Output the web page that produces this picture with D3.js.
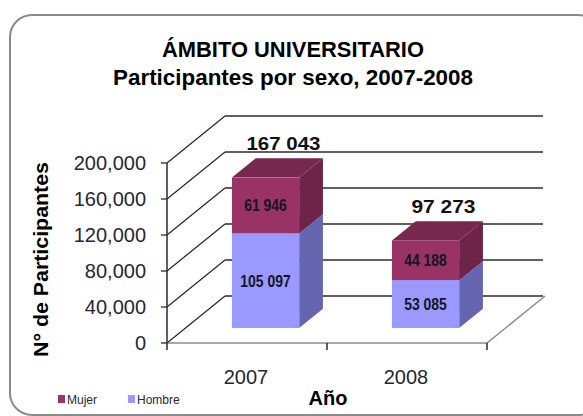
<!DOCTYPE html>
<html><head><meta charset="utf-8">
<script src="https://cdn.jsdelivr.net/npm/d3@7"></script>
<style>html,body{margin:0;padding:0;background:#fff}svg{display:block}</style>
</head><body>
<script>
const categories = ["2007", "2008"];
const mujer = [61946, 44188];
const hombre = [105097, 53085];
const yTicks = [0, 40000, 80000, 120000, 160000, 200000];
const seriesNames = ["Mujer", "Hombre"];
const titleLines = ["ÁMBITO UNIVERSITARIO", "Participantes por sexo, 2007-2008"];

const W = 583, H = 416;
const svg = d3.select("body").append("svg").attr("width", W).attr("height", H);

// frame
svg.append("rect").attr("x", 10).attr("y", 15).attr("width", 590).attr("height", 400)
  .attr("rx", 22).attr("fill", "#fff").attr("stroke", "#8a8a8a").attr("stroke-width", 2);

const cond = "'Liberation Sans Narrow','Arial Narrow','Liberation Sans',Arial,sans-serif";
const sans = "'Liberation Sans',Arial,sans-serif";

function condense(sel, factor) {
  const n = sel.node();
  const len = n.getComputedTextLength();
  sel.attr("textLength", len * factor).attr("lengthAdjust", "spacingAndGlyphs");
  return sel;
}

// title
svg.append("text").attr("x", 293).attr("y", 57).attr("text-anchor", "middle")
  .attr("font-family", cond).attr("font-weight", "bold").attr("font-size", 22)
  .attr("textLength", 262).attr("lengthAdjust", "spacingAndGlyphs").text(titleLines[0]);
svg.append("text").attr("x", 293).attr("y", 85).attr("text-anchor", "middle")
  .attr("font-family", cond).attr("font-weight", "bold").attr("font-size", 22)
  .attr("textLength", 360).attr("lengthAdjust", "spacingAndGlyphs").text(titleLines[1]);

// scales (front plane)
const y = d3.scaleLinear().domain([0, 200000]).range([343, 163]);
const x = d3.scaleBand().domain(categories).range([167, 487]).paddingInner(0).paddingOuter(0);
const DX = 58, DY = -47;          // full depth
const t0 = 0.32, t1 = 0.73;       // bar depth position
const barFrac = 0.42;
const backRight = 543;

const g = svg.append("g");
const lineCol = "#2b2b2b";

// back wall gridlines and left wall diagonals
yTicks.forEach(v => {
  g.append("line").attr("x1", 167 + DX).attr("y1", y(v) + DY).attr("x2", backRight).attr("y2", y(v) + DY)
    .attr("stroke", lineCol).attr("stroke-width", 1.6);
  g.append("line").attr("x1", 167).attr("y1", y(v)).attr("x2", 167 + DX).attr("y2", y(v) + DY)
    .attr("stroke", lineCol).attr("stroke-width", 1.3);
  g.append("line").attr("x1", 161).attr("y1", y(v)).attr("x2", 167).attr("y2", y(v))
    .attr("stroke", lineCol).attr("stroke-width", 1.3);
});
// floor
g.append("path").attr("d", `M167,${y(0)}L${x.range()[1]},${y(0)}L${x.range()[1] + DX},${y(0) + DY}`)
  .attr("fill", "none").attr("stroke", "#8c8c8c").attr("stroke-width", 1.5);
// front axis
g.append("line").attr("x1", 167).attr("y1", y(0)).attr("x2", 167).attr("y2", y(200000))
  .attr("stroke", lineCol).attr("stroke-width", 1.5);
// x ticks
[167, ...categories.map(c => x(c) + x.bandwidth())].forEach(px => {
  g.append("line").attr("x1", px).attr("y1", y(0)).attr("x2", px).attr("y2", y(0) + 7)
    .attr("stroke", lineCol).attr("stroke-width", 1.5);
});

// y tick labels
yTicks.forEach(v => {
  svg.append("text").attr("x", 146).attr("y", y(v)).attr("dy", "0.36em").attr("text-anchor", "end")
    .attr("font-family", sans).attr("font-size", 20).attr("fill", "#262636").text(d3.format(",")(v));
});
// x labels
categories.forEach(c => {
  svg.append("text").attr("x", x(c) + x.bandwidth() / 2 - 1).attr("y", 384).attr("text-anchor", "middle")
    .attr("font-family", sans).attr("font-size", 20).attr("fill", "#262636").text(c);
});
// axis titles
svg.append("text").attr("transform", `translate(48,${(162 + 357) / 2}) rotate(-90)`).attr("text-anchor", "middle")
  .attr("font-family", sans).attr("font-weight", "bold").attr("font-size", 20)
  .attr("textLength", 195).attr("lengthAdjust", "spacingAndGlyphs").text("N° de Participantes");
svg.append("text").attr("x", 328).attr("y", 405).attr("text-anchor", "middle")
  .attr("font-family", sans).attr("font-weight", "bold").attr("font-size", 20).text("Año");

// bars
const colors = {
  Mujer: { front: "#993366", top: "#78284f", side: "#6d2448" },
  Hombre: { front: "#9999ff", top: "#7b7bd6", side: "#6666b0" }
};
const bdx0 = DX * t0, bdy0 = DY * t0;
const bdx = DX * (t1 - t0), bdy = DY * (t1 - t0);
const loc = d3.formatLocale({ decimal: ".", thousands: " ", grouping: [3], currency: ["", ""] });
const fmt = loc.format(",");

categories.forEach((c, i) => {
  const bw = x.bandwidth() * barFrac;
  const x0 = x(c) + bdx0 + (x.bandwidth() - bw) / 2;
  const x1 = x0 + bw;
  const segs = [
    { name: "Hombre", lo: 0, hi: hombre[i] },
    { name: "Mujer", lo: hombre[i], hi: hombre[i] + mujer[i] }
  ];
  segs.forEach(s => {
    const yb = y(s.lo) + bdy0, yt = y(s.hi) + bdy0;
    const col = colors[s.name];
    g.append("path").attr("d", `M${x1},${yb}L${x1 + bdx},${yb + bdy}L${x1 + bdx},${yt + bdy}L${x1},${yt}Z`)
      .attr("fill", col.side);
    g.append("path").attr("d", `M${x0},${yt}L${x0 + bdx},${yt + bdy}L${x1 + bdx},${yt + bdy}L${x1},${yt}Z`)
      .attr("fill", col.top);
    g.append("rect").attr("x", x0).attr("y", yt).attr("width", bw).attr("height", yb - yt).attr("fill", col.front);
    const t = svg.append("text").attr("x", (x0 + x1) / 2).attr("y", (yb + yt) / 2).attr("dy", "0.35em")
      .attr("text-anchor", "middle").attr("font-family", cond).attr("font-weight", "bold")
      .attr("font-size", 17).attr("fill", "#15151f").text(fmt(s.hi - s.lo));
    condense(t, 0.82);
  });
  const tot = hombre[i] + mujer[i];
  svg.append("text").attr("x", (x0 + x1) / 2 + bdx / 2 + 6).attr("y", y(tot) + bdy0 + bdy - 8)
    .attr("text-anchor", "middle").attr("font-family", sans).attr("font-weight", "bold")
    .attr("font-size", 19).attr("fill", "#111").attr("textLength", i === 0 ? 74 : 64)
    .attr("lengthAdjust", "spacingAndGlyphs").text(fmt(tot));
});

// legend
const legX = [58, 128];
seriesNames.forEach((n, i) => {
  svg.append("rect").attr("x", legX[i]).attr("y", 395).attr("width", 7).attr("height", 8)
    .attr("fill", colors[n].front);
  svg.append("text").attr("x", legX[i] + 9).attr("y", 404).attr("font-family", sans)
    .attr("font-size", 12).attr("fill", "#262636").text(n);
});
</script>
</body></html>
